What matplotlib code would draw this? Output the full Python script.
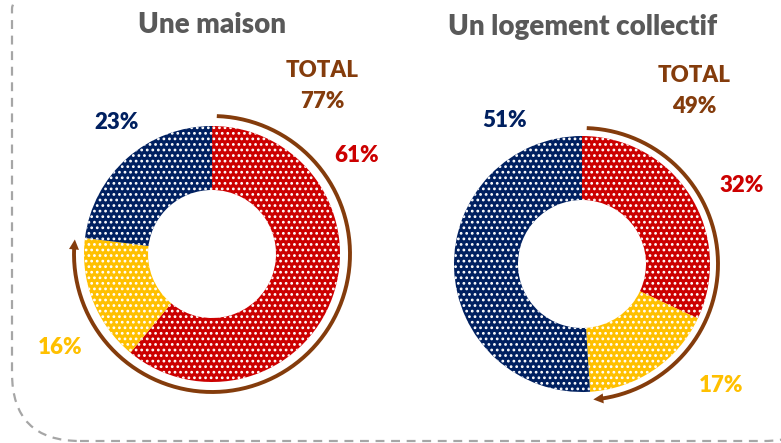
import matplotlib
matplotlib.use('Agg')
import matplotlib.pyplot as plt
import numpy as np
from matplotlib.patches import FancyBboxPatch

# data
titles = ['Une maison', 'Un logement collectif']
values_maison = [61, 16, 23]
values_collectif = [32, 17, 51]
totals = [77, 49]
colors = ['#CC0000', '#FFC000', '#002060']
brown = '#843C0C'
grey = '#595959'

plt.rcParams['font.family'] = ['Lato', 'DejaVu Sans']
plt.rcParams['hatch.linewidth'] = 1.2

W, H = 781, 443
fig = plt.figure(figsize=(W / 100, H / 100), dpi=100)
ax = fig.add_axes([0, 0, 1, 1])
ax.set_xlim(0, W)
ax.set_ylim(0, H)
ax.set_aspect('equal')
ax.axis('off')

# dashed rounded frame (partly outside the picture)
frame = FancyBboxPatch((12, 2), 820, 500, boxstyle='round,pad=0,rounding_size=68',
                       fill=False, ec='#A6A6A6', lw=1.6, ls=(0, (4, 3)))
ax.add_patch(frame)

# layout: pixel positions from the top-left corner
centers = [(212, 254), (582, 264)]
arc_r = [138, 136]
title_pos = [(212, 25), (583, 27)]
label_pos = [[(357, 155), (60, 347), (117, 122)],
             [(742, 185), (721, 386), (505, 120)]]
total_pos = [(322, 70), (694, 75)]

for i, vals in enumerate([values_maison, values_collectif]):
    cx, cy = centers[i][0], H - centers[i][1]
    wedges, _ = ax.pie(vals, colors=colors, startangle=90, counterclock=False,
                       center=(cx, cy), radius=128, frame=True,
                       wedgeprops=dict(width=64, linewidth=0, edgecolor='white', hatch='...'))
    ax.text(title_pos[i][0], H - title_pos[i][1], titles[i], ha='center', va='center',
            fontsize=20, fontweight='heavy', color=grey)
    for v, c, (lx, ly) in zip(vals, colors, label_pos[i]):
        ax.text(lx, H - ly, f'{v}%', ha='center', va='center', fontsize=16,
                fontweight='heavy', color=c)
    tx, ty = total_pos[i]
    ax.text(tx, H - ty, 'TOTAL', ha='center', va='center', fontsize=16,
            fontweight='heavy', color=brown)
    ax.text(tx, H - ty - 31, f'{totals[i]}%', ha='center', va='center', fontsize=16,
            fontweight='heavy', color=brown)

    # arrow around red + yellow share
    a0 = np.deg2rad(88)
    a1 = np.deg2rad(90 - 360 * totals[i] / 100)
    t = np.linspace(a0, a1 + 0.06, 200)
    r = arc_r[i]
    ax.plot(cx + r * np.cos(t), cy + r * np.sin(t), color=brown, lw=2.8,
            solid_capstyle='butt')
    ax.annotate('', xy=(cx + r * np.cos(a1), cy + r * np.sin(a1)),
                xytext=(cx + r * np.cos(a1 + 0.08), cy + r * np.sin(a1 + 0.08)),
                arrowprops=dict(arrowstyle='-|>', color=brown, lw=0, mutation_scale=18))

ax.set_xlim(0, W)
ax.set_ylim(0, H)
fig.savefig('out.png', dpi=100)
